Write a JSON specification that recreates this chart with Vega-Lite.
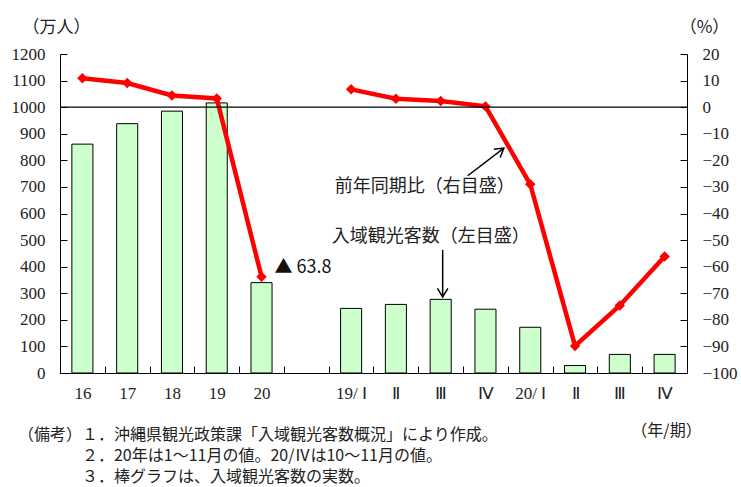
{
  "$schema": "https://vega.github.io/schema/vega-lite/v6.json",
  "width": 627,
  "height": 319,
  "autosize": {"type": "none"},
  "padding": {"left": 60, "top": 54, "right": 54, "bottom": 114},
  "background": "white",
  "config": {"view": {"stroke": null}, "font": "Noto Sans CJK JP"},
  "datasets": {
    "bars": [
      {"cat": "16", "visitors": 861},
      {"cat": "17", "visitors": 938},
      {"cat": "18", "visitors": 985},
      {"cat": "19", "visitors": 1016},
      {"cat": "20", "visitors": 340},
      {"cat": "19/Ⅰ", "visitors": 243},
      {"cat": "19/Ⅱ", "visitors": 258},
      {"cat": "19/Ⅲ", "visitors": 277},
      {"cat": "19/Ⅳ", "visitors": 240},
      {"cat": "20/Ⅰ", "visitors": 172},
      {"cat": "20/Ⅱ", "visitors": 28},
      {"cat": "20/Ⅲ", "visitors": 70},
      {"cat": "20/Ⅳ", "visitors": 70}
    ],
    "yoy": [
      {"cat": "16", "g": "year", "pct": 10.9},
      {"cat": "17", "g": "year", "pct": 9.1},
      {"cat": "18", "g": "year", "pct": 4.4},
      {"cat": "19", "g": "year", "pct": 3.3},
      {"cat": "20", "g": "year", "pct": -63.8},
      {"cat": "19/Ⅰ", "g": "quarter", "pct": 6.7},
      {"cat": "19/Ⅱ", "g": "quarter", "pct": 3.2},
      {"cat": "19/Ⅲ", "g": "quarter", "pct": 2.3},
      {"cat": "19/Ⅳ", "g": "quarter", "pct": 0.3},
      {"cat": "20/Ⅰ", "g": "quarter", "pct": -29.0},
      {"cat": "20/Ⅱ", "g": "quarter", "pct": -89.8},
      {"cat": "20/Ⅲ", "g": "quarter", "pct": -74.6},
      {"cat": "20/Ⅳ", "g": "quarter", "pct": -56.2}
    ]
  },
  "layer": [
    {
      "data": {"name": "bars"},
      "mark": {"type": "bar", "fill": "#CCFFCC", "stroke": "#000", "strokeWidth": 1},
      "encoding": {
        "x": {
          "field": "cat", "type": "nominal",
          "scale": {"domain": ["16","17","18","19","20","gap","19/Ⅰ","19/Ⅱ","19/Ⅲ","19/Ⅳ","20/Ⅰ","20/Ⅱ","20/Ⅲ","20/Ⅳ"], "paddingInner": 0.53, "paddingOuter": 0.265},
          "axis": {
            "title": "（年/期）", "titleX": 606, "titleY": 57, "titleAlign": "center", "titleBaseline": "middle",
            "titleFont": "Noto Sans CJK JP", "titleFontSize": 16, "titleFontWeight": "normal", "titleColor": "#222",
            "labelAngle": 0, "labelFont": "Liberation Serif", "labelFontSize": 17, "labelColor": "#222",
            "labelPadding": 19, "labelOffset": 22.4, "labelOverlap": false, "tickSize": -7, "tickWidth": 1, "tickOffset": -22.4, "tickColor": "#000", "domainColor": "#000", "grid": false,
            "labelExpr": "datum.value == 'gap' ? '' : (indexof(datum.value, '/Ⅰ') > 0 ? replace(datum.value, '/', '/ ') : (indexof(datum.value, '/') > 0 ? substring(datum.value, 3) : datum.value))"
          }
        },
        "y": {
          "field": "visitors", "type": "quantitative",
          "scale": {"domain": [0, 1200], "nice": false},
          "axis": {
            "title": "（万人）", "titleAngle": 0, "titleX": -4, "titleY": -27, "titleAlign": "center", "titleBaseline": "middle",
            "titleFont": "Noto Sans CJK JP", "titleFontSize": 17, "titleFontWeight": "normal", "titleColor": "#222",
            "values": [0,100,200,300,400,500,600,700,800,900,1000,1100,1200], "format": "d", "labelOverlap": false,
            "labelFont": "Liberation Serif", "labelFontSize": 17, "labelColor": "#222", "labelPadding": 22,
            "tickSize": -7, "tickWidth": 1, "grid": false, "tickColor": "#000", "domainColor": "#000"
          }
        }
      }
    },
    {
      "data": {"name": "yoy"},
      "mark": {"type": "line", "color": "#FF0000", "strokeWidth": 4.5, "point": {"shape": "diamond", "filled": true, "color": "#FF0000", "size": 110, "opacity": 1}},
      "encoding": {
        "x": {"field": "cat", "type": "nominal", "scale": {"domain": ["16","17","18","19","20","gap","19/Ⅰ","19/Ⅱ","19/Ⅲ","19/Ⅳ","20/Ⅰ","20/Ⅱ","20/Ⅲ","20/Ⅳ"], "paddingInner": 0.53, "paddingOuter": 0.265}, "axis": null},
        "y": {
          "field": "pct", "type": "quantitative",
          "scale": {"domain": [-100, 20], "nice": false},
          "axis": {
            "orient": "right", "title": "（%）", "titleAngle": 0, "titleX": 17, "titleY": -27, "titleAlign": "center", "titleBaseline": "middle",
            "titleFont": "Noto Sans CJK JP", "titleFontSize": 17, "titleFontWeight": "normal", "titleColor": "#222",
            "values": [-100,-90,-80,-70,-60,-50,-40,-30,-20,-10,0,10,20], "format": "d", "labelOverlap": false,
            "labelFont": "Liberation Serif", "labelFontSize": 17, "labelColor": "#222", "labelPadding": 22,
            "tickSize": -7, "tickWidth": 1, "grid": false, "tickColor": "#000", "domainColor": "#000"
          }
        },
        "detail": {"field": "g"}
      }
    },
    {
      "layer": [
        {
          "data": {"values": [{}]},
          "mark": {"type": "rule", "color": "#000", "strokeWidth": 1.2},
          "encoding": {
            "y": {"datum": 1000, "type": "quantitative", "scale": {"domain": [0, 1200], "nice": false}, "axis": null}
          }
        },
        {
          "data": {"values": [{"cat": "19/Ⅲ", "v": 700, "t": "前年同期比（右目盛）"}]},
          "mark": {"type": "text", "align": "center", "baseline": "middle", "dx": -16, "fontSize": 18, "color": "#222"},
          "encoding": {
            "x": {"field": "cat", "type": "nominal", "scale": {"domain": ["16","17","18","19","20","gap","19/Ⅰ","19/Ⅱ","19/Ⅲ","19/Ⅳ","20/Ⅰ","20/Ⅱ","20/Ⅲ","20/Ⅳ"], "paddingInner": 0.53, "paddingOuter": 0.265}, "axis": null},
            "y": {"field": "v", "type": "quantitative", "scale": {"domain": [0, 1200], "nice": false}, "axis": null},
            "text": {"field": "t"}
          }
        },
        {
          "data": {"values": [{"cat": "19/Ⅲ", "v": 512, "t": "入域観光客数（左目盛）"}]},
          "mark": {"type": "text", "align": "center", "baseline": "middle", "dx": -10, "fontSize": 18, "color": "#222"},
          "encoding": {
            "x": {"field": "cat", "type": "nominal", "scale": {"domain": ["16","17","18","19","20","gap","19/Ⅰ","19/Ⅱ","19/Ⅲ","19/Ⅳ","20/Ⅰ","20/Ⅱ","20/Ⅲ","20/Ⅳ"], "paddingInner": 0.53, "paddingOuter": 0.265}, "axis": null},
            "y": {"field": "v", "type": "quantitative", "scale": {"domain": [0, 1200], "nice": false}, "axis": null},
            "text": {"field": "t"}
          }
        },
        {
          "data": {"values": [{"cat": "20", "v": 395, "t": "▲ 63.8"}]},
          "mark": {"type": "text", "align": "left", "baseline": "middle", "dx": 13, "fontSize": 18, "color": "#111"},
          "encoding": {
            "x": {"field": "cat", "type": "nominal", "scale": {"domain": ["16","17","18","19","20","gap","19/Ⅰ","19/Ⅱ","19/Ⅲ","19/Ⅳ","20/Ⅰ","20/Ⅱ","20/Ⅲ","20/Ⅳ"], "paddingInner": 0.53, "paddingOuter": 0.265}, "axis": null},
            "y": {"field": "v", "type": "quantitative", "scale": {"domain": [0, 1200], "nice": false}, "axis": null},
            "text": {"field": "t"}
          }
        },
        {
          "data": {"values": [{"cat": "16", "t": "（備考）１．沖縄県観光政策課「入域観光客数概況」により作成。"}]},
          "mark": {"type": "text", "align": "left", "baseline": "middle", "dx": -64.4, "fontSize": 16, "color": "#222"},
          "encoding": {
            "x": {"field": "cat", "type": "nominal", "scale": {"domain": ["16","17","18","19","20","gap","19/Ⅰ","19/Ⅱ","19/Ⅲ","19/Ⅳ","20/Ⅰ","20/Ⅱ","20/Ⅲ","20/Ⅳ"], "paddingInner": 0.53, "paddingOuter": 0.265}, "axis": null},
            "y": {"datum": -233, "type": "quantitative", "scale": {"domain": [0, 1200], "nice": false}, "axis": null},
            "text": {"field": "t"}
          }
        },
        {
          "data": {"values": [{"cat": "16", "t": "２．20年は1～11月の値。20/Ⅳは10～11月の値。"}]},
          "mark": {"type": "text", "align": "left", "baseline": "middle", "dx": -0.4, "fontSize": 16, "color": "#222"},
          "encoding": {
            "x": {"field": "cat", "type": "nominal", "scale": {"domain": ["16","17","18","19","20","gap","19/Ⅰ","19/Ⅱ","19/Ⅲ","19/Ⅳ","20/Ⅰ","20/Ⅱ","20/Ⅲ","20/Ⅳ"], "paddingInner": 0.53, "paddingOuter": 0.265}, "axis": null},
            "y": {"datum": -312, "type": "quantitative", "scale": {"domain": [0, 1200], "nice": false}, "axis": null},
            "text": {"field": "t"}
          }
        },
        {
          "data": {"values": [{"cat": "16", "t": "３．棒グラフは、入域観光客数の実数。"}]},
          "mark": {"type": "text", "align": "left", "baseline": "middle", "dx": -0.4, "fontSize": 16, "color": "#222"},
          "encoding": {
            "x": {"field": "cat", "type": "nominal", "scale": {"domain": ["16","17","18","19","20","gap","19/Ⅰ","19/Ⅱ","19/Ⅲ","19/Ⅳ","20/Ⅰ","20/Ⅱ","20/Ⅲ","20/Ⅳ"], "paddingInner": 0.53, "paddingOuter": 0.265}, "axis": null},
            "y": {"datum": -391, "type": "quantitative", "scale": {"domain": [0, 1200], "nice": false}, "axis": null},
            "text": {"field": "t"}
          }
        },
        {
          "data": {"values": [{"cat": "19/Ⅲ", "cat2": "19/Ⅳ", "v": 742, "v2": 846}]},
          "mark": {"type": "rule", "xOffset": 27, "x2Offset": 18.4, "strokeWidth": 1.5, "color": "#000"},
          "encoding": {
            "x": {"field": "cat", "type": "nominal", "scale": {"domain": ["16","17","18","19","20","gap","19/Ⅰ","19/Ⅱ","19/Ⅲ","19/Ⅳ","20/Ⅰ","20/Ⅱ","20/Ⅲ","20/Ⅳ"], "paddingInner": 0.53, "paddingOuter": 0.265}, "axis": null},
            "x2": {"field": "cat2"},
            "y": {"field": "v", "type": "quantitative", "scale": {"domain": [0, 1200], "nice": false}, "axis": null},
            "y2": {"field": "v2"}
          }
        },
        {
          "data": {"values": [{"cat": "19/Ⅳ", "v": 846}]},
          "mark": {"type": "point", "shape": "M -1 -0.6 L 0 0 L -1 0.6", "filled": false, "size": 300, "angle": 322.4, "xOffset": 18.4, "strokeWidth": 1.5, "color": "#000", "opacity": 1},
          "encoding": {
            "x": {"field": "cat", "type": "nominal", "scale": {"domain": ["16","17","18","19","20","gap","19/Ⅰ","19/Ⅱ","19/Ⅲ","19/Ⅳ","20/Ⅰ","20/Ⅱ","20/Ⅲ","20/Ⅳ"], "paddingInner": 0.53, "paddingOuter": 0.265}, "axis": null},
            "y": {"field": "v", "type": "quantitative", "scale": {"domain": [0, 1200], "nice": false}, "axis": null}
          }
        },
        {
          "data": {"values": [{"cat": "19/Ⅲ", "v": 463, "v2": 286}]},
          "mark": {"type": "rule", "xOffset": 2, "strokeWidth": 1.5, "color": "#000"},
          "encoding": {
            "x": {"field": "cat", "type": "nominal", "scale": {"domain": ["16","17","18","19","20","gap","19/Ⅰ","19/Ⅱ","19/Ⅲ","19/Ⅳ","20/Ⅰ","20/Ⅱ","20/Ⅲ","20/Ⅳ"], "paddingInner": 0.53, "paddingOuter": 0.265}, "axis": null},
            "y": {"field": "v", "type": "quantitative", "scale": {"domain": [0, 1200], "nice": false}, "axis": null},
            "y2": {"field": "v2"}
          }
        },
        {
          "data": {"values": [{"cat": "19/Ⅲ", "v": 286}]},
          "mark": {"type": "point", "shape": "M -1 -0.6 L 0 0 L -1 0.6", "filled": false, "size": 300, "angle": 90, "xOffset": 2, "strokeWidth": 1.5, "color": "#000", "opacity": 1},
          "encoding": {
            "x": {"field": "cat", "type": "nominal", "scale": {"domain": ["16","17","18","19","20","gap","19/Ⅰ","19/Ⅱ","19/Ⅲ","19/Ⅳ","20/Ⅰ","20/Ⅱ","20/Ⅲ","20/Ⅳ"], "paddingInner": 0.53, "paddingOuter": 0.265}, "axis": null},
            "y": {"field": "v", "type": "quantitative", "scale": {"domain": [0, 1200], "nice": false}, "axis": null}
          }
        }
      ]
    }
  ],
  "resolve": {"scale": {"x": "independent", "y": "independent"}}
}
